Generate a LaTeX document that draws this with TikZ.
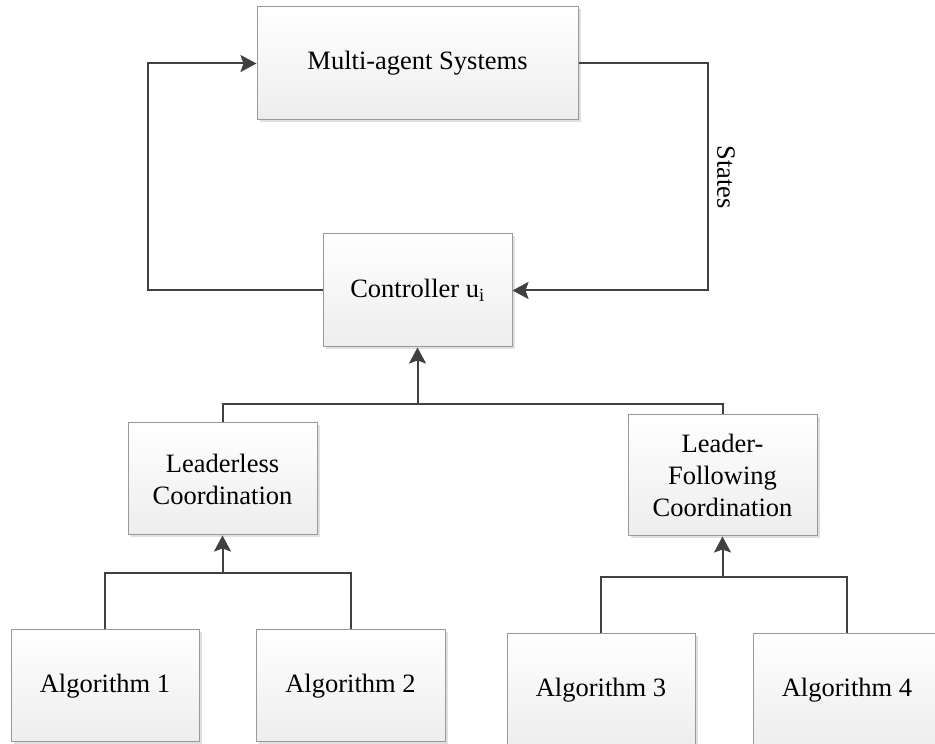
\documentclass[tikz,border=0pt]{standalone}
\usepackage{fontspec}
\setmainfont{Liberation Serif}
\usetikzlibrary{arrows.meta}
\usetikzlibrary{shadows}

\begin{document}
\begin{tikzpicture}[x=1pt, y=1pt, >={Stealth[length=16pt,width=17pt,inset=3pt]},
    box/.style={draw=black!40, line width=1pt, top color=white, bottom color=black!7,
        drop shadow={shadow xshift=2.5pt, shadow yshift=-2.5pt, fill=black, opacity=0.12},
        align=center, inner sep=0pt, font=\fontsize{26.5}{32}\selectfont},
    link/.style={draw=black!75, line width=2pt}]
    \useasboundingbox (0,0) rectangle (935,744);
    \node[box, minimum width=321pt, minimum height=113pt] (sys) at (417.5,680.5) {Multi-agent Systems};
    \node[box, minimum width=189pt, minimum height=113pt] (ctrl) at (417.5,453.5) {Controller u\textsubscript{i}};
    \node[box, minimum width=189pt, minimum height=112pt] (lless) at (222.5,265) {Leaderless\\Coordination};
    \node[box, minimum width=189pt, minimum height=121pt] (lfol) at (722.5,268.5) {Leader-\\Following\\Coordination};
    \node[box, minimum width=188pt, minimum height=112pt] (alg1) at (105,58) {Algorithm 1};
    \node[box, minimum width=189pt, minimum height=112pt] (alg2) at (350.5,58) {Algorithm 2};
    \node[box, minimum width=188pt, minimum height=112pt] (alg3) at (601,54) {Algorithm 3};
    \node[box, minimum width=188pt, minimum height=112pt] (alg4) at (847,54) {Algorithm 4};
    \node[rotate=-90, font=\fontsize{26.5}{32}\selectfont] (states) at (726,567) {States};
    \coordinate (j1) at (417.5,340);
    \coordinate (j2) at (222.5,171);
    \coordinate (j3) at (722.5,167);
    \draw[link,->] (ctrl.west) -- ++(-175,0) |- (sys.west);
    \draw[link,->] (sys.east) -- ++(129,0) |- (ctrl.east);
    \draw[link] (lless.north) |- (j1) -| (lfol.north);
    \draw[link,->] (j1) -- (ctrl.south);
    \draw[link] (alg1.north) |- (j2) -| (alg2.north);
    \draw[link,->] (j2) -- (lless.south);
    \draw[link] (alg3.north) |- (j3) -| (alg4.north);
    \draw[link,->] (j3) -- (lfol.south);
\end{tikzpicture}
\end{document}
